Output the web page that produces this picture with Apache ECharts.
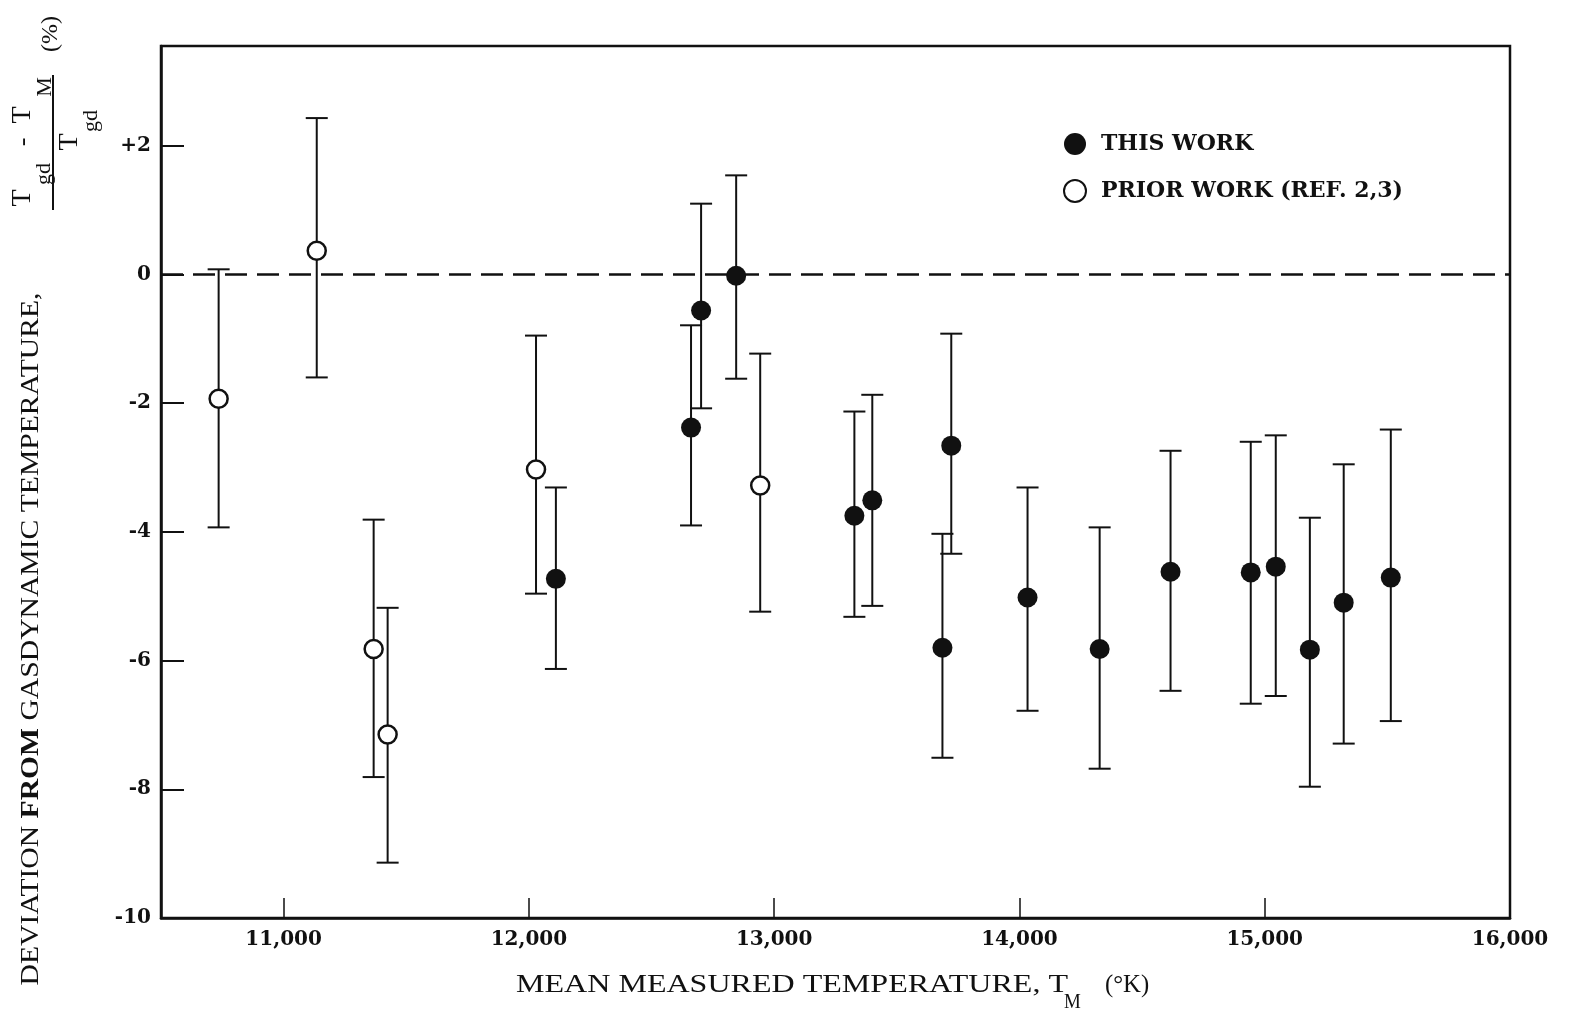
<!DOCTYPE html>
<html>
<head>
<meta charset="utf-8">
<script src="https://cdn.jsdelivr.net/npm/echarts@6/dist/echarts.min.js"></script>
<style>
html,body{margin:0;padding:0;background:#fff;}
#chart{width:1570px;height:1014px;}
</style>
</head>
<body>
<div id="chart"></div>
<script>
// ---- data ----
const thisWorkT   = [12110, 12661, 12702, 12845, 13327, 13400, 13686, 13722, 14033, 14327, 14616, 14943, 15045, 15184, 15322, 15514];
const thisWorkDev = [-4.73, -2.38, -0.56, -0.02, -3.75, -3.51, -5.80, -2.66, -5.02, -5.82, -4.62, -4.63, -4.54, -5.83, -5.10, -4.71];
const thisWorkHi  = [-3.31, -0.79, 1.10, 1.54, -2.13, -1.87, -4.03, -0.92, -3.31, -3.93, -2.74, -2.60, -2.50, -3.78, -2.95, -2.41];
const thisWorkLo  = [-6.13, -3.90, -2.08, -1.62, -5.32, -5.15, -7.51, -4.34, -6.78, -7.68, -6.47, -6.67, -6.55, -7.96, -7.29, -6.94];

const priorT   = [10735, 11135, 11367, 11424, 12029, 12943];
const priorDev = [-1.93, 0.37, -5.82, -7.15, -3.03, -3.28];
const priorHi  = [0.08, 2.43, -3.81, -5.18, -0.95, -1.23];
const priorLo  = [-3.93, -1.60, -7.81, -9.14, -4.96, -5.24];

const xTicks = [11000, 12000, 13000, 14000, 15000, 16000];
const yTicks = [-10, -8, -6, -4, -2, 0, 2];
const seriesNames = ['THIS WORK', 'PRIOR WORK (REF. 2,3)'];

// ---- helpers ----
const ink = '#111';
const mctx = document.createElement('canvas').getContext('2d');
function textW(t, font){ mctx.font = font; return mctx.measureText(t).width; }

function pts(xs, ys){ return xs.map((x,i)=>[x, ys[i]]); }
function bars(xs, hi, lo){ return xs.map((x,i)=>[x, hi[i], lo[i]]); }

function errRender(params, api){
  const x = api.value(0);
  const top = api.coord([x, api.value(1)]);
  const bot = api.coord([x, api.value(2)]);
  const hw = 11;
  const st = {stroke: ink, lineWidth: 2};
  return {
    type: 'group',
    children: [
      {type:'line', shape:{x1:top[0], y1:top[1], x2:bot[0], y2:bot[1]}, style: st},
      {type:'line', shape:{x1:top[0]-hw, y1:top[1], x2:top[0]+hw, y2:top[1]}, style: st},
      {type:'line', shape:{x1:bot[0]-hw, y1:bot[1], x2:bot[0]+hw, y2:bot[1]}, style: st}
    ]
  };
}

function vtext(text, cx, cy, font, scale){
  return {
    type:'text', x:cx, y:cy, rotation:Math.PI/2, scaleX: scale || 1,
    style:{text:text, font:font, fill:ink, textAlign:'center', textVerticalAlign:'middle', align:'center', verticalAlign:'middle'}
  };
}
function htext(text, x, y, font, align, scale){
  return {
    type:'text', x:x, y:y, scaleX: scale || 1,
    style:{text:text, font:font, fill:ink, textAlign:align||'left', textVerticalAlign:'middle', align:align||'left', verticalAlign:'middle'}
  };
}

// Y-axis title (condensed look)
const fReg = '26px "Liberation Serif"';
const fBold = 'bold 26px "Liberation Serif"';
const yT1 = 'DEVIATION ', yT2 = 'FROM', yT3 = ' GASDYNAMIC TEMPERATURE,';
const yNat = textW(yT1, fReg) + textW(yT2, fBold) + textW(yT3, fReg);
const yScale = 693 / yNat;
const yTitle = {
  type:'text', x:31, y:639, rotation:Math.PI/2, scaleX:yScale,
  style:{
    text:'{r|' + yT1 + '}{b|' + yT2 + '}{r|' + yT3 + '}',
    rich:{ r:{font:fReg, fill:ink}, b:{font:fBold, fill:ink} },
    textAlign:'center', textVerticalAlign:'middle', align:'center', verticalAlign:'middle'
  }
};

// X-axis title
const xMain = 'MEAN MEASURED TEMPERATURE, T';
const xScale = 552 / textW(xMain, fReg);

const chart = echarts.init(document.getElementById('chart'), null, {renderer:'canvas'});
const option = {
  animation:false,
  backgroundColor:'#fff',
  grid:{left:161, right:60, top:46, bottom:96, show:true, borderColor:ink, borderWidth:2.5, backgroundColor:'transparent'},
  xAxis:{
    type:'value', min:10500, max:16000,
    axisLine:{show:true, onZero:false, lineStyle:{color:ink, width:2.5}},
    axisTick:{show:true, inside:true, length:20, lineStyle:{color:ink, width:1.5}, customValues:xTicks},
    axisLabel:{customValues:xTicks, margin:12, color:ink, fontFamily:'DejaVu Serif', fontWeight:'bold', fontSize:20,
      formatter:v=>v.toLocaleString('en-US')},
    splitLine:{show:false}
  },
  yAxis:{
    type:'value', min:-10, max:3.55,
    axisLine:{show:true, onZero:false, lineStyle:{color:ink, width:2.5}},
    axisTick:{show:true, inside:true, length:23, lineStyle:{color:ink, width:2}, customValues:yTicks},
    axisLabel:{customValues:yTicks, margin:10, color:ink, fontFamily:'DejaVu Serif', fontWeight:'bold', fontSize:20,
      formatter:v=> v>0 ? '+'+v : String(v)},
    splitLine:{show:false}
  },
  legend:{
    orient:'vertical', left:1058, top:128, itemGap:24, itemWidth:22, itemHeight:22,
    data:seriesNames,
    textStyle:{color:ink, fontFamily:'DejaVu Serif', fontWeight:'bold', fontSize:22, padding:[0,0,0,10]}
  },
  series:[
    {
      type:'custom', name:'errThis', renderItem:errRender, data:bars(thisWorkT, thisWorkHi, thisWorkLo),
      encode:{x:0, y:[1,2]}, z:2, silent:true,
      markLine:{silent:true, symbol:['none','none'], label:{show:false},
        lineStyle:{color:ink, width:2.5, type:[22,10]}, data:[{yAxis:0}]}
    },
    {
      type:'custom', name:'errPrior', renderItem:errRender, data:bars(priorT, priorHi, priorLo),
      encode:{x:0, y:[1,2]}, z:2, silent:true
    },
    {
      type:'scatter', name:seriesNames[0], data:pts(thisWorkT, thisWorkDev), symbol:'circle', symbolSize:20,
      itemStyle:{color:ink, opacity:1}, z:5
    },
    {
      type:'scatter', name:seriesNames[1], data:pts(priorT, priorDev), symbol:'circle', symbolSize:18,
      itemStyle:{color:'#fff', borderColor:ink, borderWidth:2.5, opacity:1}, z:5
    }
  ],
  graphic:[
    yTitle,
    vtext('T', 23, 198, '28px "Liberation Serif"'),
    vtext('gd', 44, 174, '22px "Liberation Serif"'),
    vtext('-', 23, 142, '26px "Liberation Serif"'),
    vtext('T', 23, 115, '28px "Liberation Serif"'),
    vtext('M', 45, 87, '22px "Liberation Serif"'),
    {type:'line', shape:{x1:53, y1:75, x2:53, y2:210}, style:{stroke:ink, lineWidth:2}},
    vtext('T', 70, 142, '28px "Liberation Serif"'),
    vtext('gd', 91, 121, '22px "Liberation Serif"'),
    vtext('(%)', 51, 34, '24px "Liberation Serif"'),
    htext(xMain, 516, 985, fReg, 'left', xScale),
    htext('M', 1064, 1002, '21px "Liberation Serif"', 'left', 0.9),
    htext('(°K)', 1105, 985, fReg, 'left', 0.95)
  ]
};
chart.setOption(option);
</script>
</body>
</html>
